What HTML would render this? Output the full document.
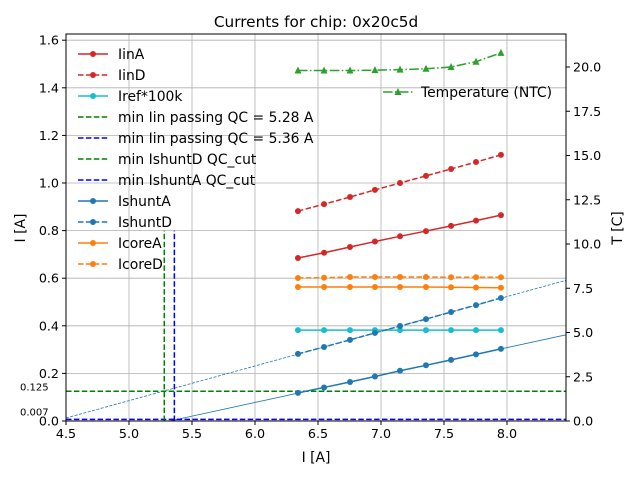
<!DOCTYPE html>
<html><head><meta charset="utf-8"><style>
body{margin:0;background:#fff;font-family:"Liberation Sans","DejaVu Sans",sans-serif}
svg text{font-family:"DejaVu Sans","Liberation Sans",sans-serif}
</style></head><body>
<svg id="c" width="640" height="480" xmlns="http://www.w3.org/2000/svg"></svg>
<script>
const xs=[6.341,6.548,6.754,6.952,7.151,7.357,7.556,7.754,7.952];
const iinA=[0.685,0.707,0.731,0.754,0.776,0.798,0.820,0.842,0.865];
const iinD=[0.882,0.911,0.941,0.971,1.000,1.030,1.059,1.088,1.118];
const iref=[0.382,0.382,0.382,0.382,0.382,0.382,0.382,0.382,0.382];
const ishuntA=[0.118,0.141,0.164,0.187,0.211,0.234,0.257,0.280,0.303];
const ishuntD=[0.282,0.311,0.341,0.370,0.399,0.428,0.458,0.487,0.517];
const icoreA=[0.563,0.563,0.563,0.563,0.563,0.563,0.562,0.561,0.560];
const icoreD=[0.601,0.602,0.605,0.605,0.605,0.605,0.604,0.604,0.604];
const temp=[19.8,19.8,19.8,19.82,19.85,19.9,20.0,20.3,20.8];
const xTicks=[4.5,5.0,5.5,6.0,6.5,7.0,7.5,8.0];
const yTicks=[0.0,0.2,0.4,0.6,0.8,1.0,1.2,1.4,1.6];
const y2Ticks=[0.0,2.5,5.0,7.5,10.0,12.5,15.0,17.5,20.0];
const minIinD=5.28, minIinA=5.36, cutD=0.125, cutA=0.007;

const L=66,R=566,T=34,B=421;
const X=v=>L+(v-4.5)*126;
const Y=v=>B-v*238;
const Y2=v=>B-v*17.7;
const svg=document.getElementById('c');
const NS='http://www.w3.org/2000/svg';
function el(t,a,txt){const e=document.createElementNS(NS,t);for(const k in a)e.setAttribute(k,a[k]);if(txt!==undefined)e.textContent=txt;svg.appendChild(e);return e;}
xTicks.forEach(v=>{const g=el('line',{x1:X(v),x2:X(v),y1:T,y2:B,stroke:'#b0b0b0','stroke-width':0.8});


const t=el('text',{x:X(v),y:B+17,'font-size':12.7,'text-anchor':'middle'},v.toFixed(1));


el('line',{x1:X(v),x2:X(v),y1:B,y2:B+4,stroke:'#000'});});
yTicks.forEach(v=>{const g=el('line',{x1:L,x2:R,y1:Y(v),y2:Y(v),stroke:'#b0b0b0','stroke-width':0.8});


const t=el('text',{x:L-7,y:Y(v)+4.5,'font-size':12.7,'text-anchor':'end'},v.toFixed(1));


el('line',{x1:L-4,x2:L,y1:Y(v),y2:Y(v),stroke:'#000'});});
y2Ticks.forEach(v=>{const t=el('text',{x:R+7,y:Y2(v)+4.5,'font-size':12.7},v.toFixed(1));


el('line',{x1:R,x2:R+4,y1:Y2(v),y2:Y2(v),stroke:'#000'});});
function poly(ys,yf,color,dash,name,marker,w){
 const p=el('polyline',{points:xs.map((x,i)=>X(x)+','+yf(ys[i])).join(' '),fill:'none',stroke:color,'stroke-width':w||1.5,'stroke-dasharray':dash||''});
 
 
 xs.forEach((x,i)=>{let m;
  if(marker==='tri'){const cx=X(x),cy=yf(ys[i]);m=el('polygon',{points:`${cx},${cy-4} ${cx-3.5},${cy+3} ${cx+3.5},${cy+3}`,fill:color});}
  else m=el('circle',{cx:X(x),cy:yf(ys[i]),r:3,fill:color});
  
  });
}
function fit(ys){const n=xs.length,mx=xs.reduce((a,b)=>a+b)/n,my=ys.reduce((a,b)=>a+b)/n;let s=0,q=0;xs.forEach((x,i)=>{s+=(x-mx)*(ys[i]-my);q+=(x-mx)**2});const k=s/q;return [k,my-k*mx];}
const [kd,bd]=fit(ishuntD);
let f=el('line',{x1:X(4.5),y1:Y(kd*4.5+bd),x2:R,y2:Y(kd*8.468+bd),stroke:'#1f77b4','stroke-width':0.8,'stroke-dasharray':'3,1.5'});


const [ka,ba]=fit(ishuntA);const x0=-ba/ka;
f=el('line',{x1:X(x0),y1:Y(0),x2:R,y2:Y(ka*8.468+ba),stroke:'#1f77b4','stroke-width':0.8});


let q=el('line',{x1:L,x2:R,y1:Y(cutD),y2:Y(cutD),stroke:'green','stroke-width':1.5,'stroke-dasharray':'5.5,2.4'});

q=el('line',{x1:L,x2:R,y1:Y(cutA),y2:Y(cutA),stroke:'blue','stroke-width':1.5,'stroke-dasharray':'5.5,2.4'});

q=el('line',{x1:X(minIinD),x2:X(minIinD),y1:B,y2:Y(0.8),stroke:'green','stroke-width':1.5,'stroke-dasharray':'5.5,2.4'});

q=el('line',{x1:X(minIinA),x2:X(minIinA),y1:B,y2:Y(0.8),stroke:'blue','stroke-width':1.5,'stroke-dasharray':'5.5,2.4'});

q=el('text',{x:20,y:Y(cutD)-1,'font-size':10,},String(cutD));

q=el('text',{x:20,y:Y(cutA)-4,'font-size':10},'0.007');

poly(iinA,Y,'#d62728','','iinA');
poly(iinD,Y,'#d62728','5.5,2.4','iinD');
poly(iref,Y,'#17becf','','iref');
poly(ishuntA,Y,'#1f77b4','','ishuntA');
poly(ishuntD,Y,'#1f77b4','5.5,2.4','ishuntD');
poly(icoreA,Y,'#ff7f0e','','icoreA');
poly(icoreD,Y,'#ff7f0e','5.5,2.4','icoreD');
poly(temp,Y2,'#2ca02c','9.6,2.4,1.5,2.4','temperature','tri');
q=el('rect',{x:L,y:T,width:R-L,height:B-T,fill:'none',stroke:'#000','stroke-width':1});

const leg=[['IinA','#d62728',''],['IinD','#d62728','5.5,2.4'],['Iref*100k','#17becf',''],['min Iin passing QC = 5.28 A','green','5.5,2.4',1],['min Iin passing QC = 5.36 A','blue','5.5,2.4',1],['min IshuntD QC_cut','green','5.5,2.4',1],['min IshuntA QC_cut','blue','5.5,2.4',1],['IshuntA','#1f77b4',''],['IshuntD','#1f77b4','5.5,2.4'],['IcoreA','#ff7f0e',''],['IcoreD','#ff7f0e','5.5,2.4']];
leg.forEach((l,i)=>{const y=54+i*21;
 el('line',{x1:78,x2:108,y1:y,y2:y,stroke:l[1],'stroke-width':1.5,'stroke-dasharray':l[2]});
 if(!l[3])el('circle',{cx:93,cy:y,r:3,fill:l[1]});
 const t=el('text',{x:118,y:y+5,'font-size':13.9},l[0]);
 
 });
el('line',{x1:383,x2:413,y1:92,y2:92,stroke:'#2ca02c','stroke-width':1.5,'stroke-dasharray':'9.6,2.4,1.5,2.4'});
el('polygon',{points:'398,88 394.5,95 401.5,95',fill:'#2ca02c'});
q=el('text',{x:421,y:97,'font-size':13.9},'Temperature (NTC)');

q=el('text',{x:316,y:27,'font-size':15.3,'text-anchor':'middle'},'Currents for chip: 0x20c5d');

q=el('text',{x:316,y:462,'font-size':13.9,'text-anchor':'middle'},'I [A]');

q=el('text',{x:25,y:228,'font-size':13.9,'text-anchor':'middle',transform:'rotate(-90 25 228)'},'I [A]');

q=el('text',{x:622,y:228,'font-size':13.9,'text-anchor':'middle',transform:'rotate(-90 622 228)'},'T [C]');

</script>
</body></html>
